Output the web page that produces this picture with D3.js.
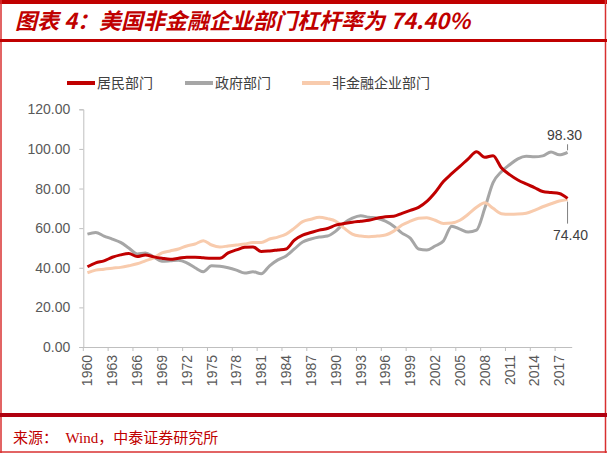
<!DOCTYPE html>
<html><head><meta charset="utf-8">
<script src="https://cdn.jsdelivr.net/npm/d3@7"></script>
<style>
html,body{margin:0;padding:0;background:#fff;}
svg{display:block;}
</style></head>
<body>
<svg id="c" width="607" height="453"></svg>
<script>
const years = d3.range(1960, 2019);
const household = [40.5,42.5,43.5,45.3,46.5,47.2,45.7,46.5,45.5,44.8,44.3,44.8,45.3,45.3,45.0,44.8,44.8,47.5,49.0,50.3,50.5,48.2,48.5,49.0,49.5,54.0,56.5,57.8,59.0,59.8,61.5,62.3,63.0,63.5,64.0,65.0,65.8,66.0,67.5,69.0,70.5,73.5,78.0,83.5,87.5,91.2,95.0,98.6,95.8,96.6,90.5,87.0,84.3,82.3,80.5,78.5,78.0,77.5,75.0];
const government = [57.0,57.8,56.0,54.5,52.8,50.0,47.0,47.5,45.5,43.3,43.5,43.8,42.5,40.0,38.0,41.0,40.8,40.0,38.8,37.3,38.0,37.0,41.0,44.0,46.0,49.5,53.0,54.5,55.5,56.0,58.5,62.5,65.0,66.2,65.5,65.0,63.5,61.0,57.5,55.0,49.5,49.0,51.0,53.5,61.0,59.5,58.0,59.0,70.0,83.0,88.5,92.0,95.0,96.3,96.0,96.5,98.5,97.0,98.3];
const corporate = [37.5,38.8,39.3,39.8,40.2,41.0,42.0,43.5,45.0,47.5,48.5,49.5,51.0,52.0,53.7,51.5,50.5,51.0,51.5,52.0,52.7,52.7,54.5,55.5,57.0,60.0,63.3,64.5,65.5,64.8,63.5,60.0,57.0,56.0,55.7,56.0,56.5,58.5,61.6,63.5,65.0,65.3,64.0,62.4,62.6,64.0,67.0,70.5,72.8,70.0,67.3,67.0,67.1,67.5,69.0,70.8,72.3,73.7,74.4];
const seriesNames = ["居民部门","政府部门","非金融企业部门"];
const seriesColors = ["#C00000","#A6A6A6","#F8CBAD"];
const yTicks = [0,20,40,60,80,100,120];
const xLabelYears = d3.range(1960, 2019, 3);
const title = "图表 4：美国非金融企业部门杠杆率为 74.40%";
const source = "来源：　Wind，中泰证券研究所";

const svg = d3.select("#c");
const red = "#C00000";

// frame
svg.append("rect").attr("x",0).attr("y",0).attr("width",607).attr("height",4).attr("fill","#C00000");
svg.append("line").attr("x1",1).attr("x2",1).attr("y1",0).attr("y2",453).attr("stroke","#D83030").attr("stroke-width",1.5);
svg.append("line").attr("x1",605.5).attr("x2",605.5).attr("y1",0).attr("y2",453).attr("stroke","#D83030").attr("stroke-width",1.5);
svg.append("rect").attr("x",0).attr("y",39).attr("width",607).attr("height",3).attr("fill","#C00000");
svg.append("rect").attr("x",0).attr("y",413).attr("width",607).attr("height",4).attr("fill","#B00010");
svg.append("line").attr("x1",0).attr("x2",607).attr("y1",452).attr("y2",452).attr("stroke","#D83030").attr("stroke-width",1.5);

svg.append("text").attr("x",15).attr("y",29).text(title)
  .attr("fill","#C00000").attr("font-size",22).attr("font-weight","bold").attr("font-style","italic")
  .attr("font-family","'Noto Sans CJK SC', sans-serif");

svg.append("text").attr("x",13).attr("y",443).text(source)
  .attr("fill","#C00000").attr("font-size",15)
  .attr("font-family","'Liberation Serif','Noto Sans CJK SC', serif");

// scales
const x = d3.scaleBand().domain(years).range([83.3, 571.7]).padding(0);
const bw = x.bandwidth();
const cx = d => x(d) + bw/2;
const y = d3.scaleLinear().domain([0,120]).range([347,109.3]);

// axes
const gy = svg.append("g").attr("transform","translate(83.3,0)")
  .call(d3.axisLeft(y).tickValues(yTicks).tickFormat(d3.format(".2f")).tickSize(4).tickPadding(9));
gy.select(".domain").attr("stroke","#BFBFBF");
gy.selectAll(".tick line").attr("stroke","#BFBFBF");
gy.selectAll("text").attr("fill","#595959").attr("font-size",14).attr("font-family","'Liberation Sans',Arial,sans-serif");

const gx = svg.append("g").attr("transform","translate(0,347)")
  .call(d3.axisBottom(x).tickValues(xLabelYears).tickSize(4).tickPadding(6).tickSizeOuter(0));
gx.select(".domain").attr("stroke","#BFBFBF");
gx.selectAll(".tick line").attr("stroke","#BFBFBF").attr("x1",-bw/2).attr("x2",-bw/2);
gx.selectAll("text").attr("fill","#595959").attr("font-size",14).attr("font-family","'Liberation Sans',Arial,sans-serif")
  .attr("transform","rotate(-90)").attr("text-anchor","end").attr("dy","0.35em").attr("x",-8).attr("y",0);

// lines
const allSeries = [household, government, corporate];
const line = d3.line().x((d,i)=>cx(years[i])).y(d=>y(d)).curve(d3.curveMonotoneX);
[1,2,0].forEach(k=>{
  svg.append("path").datum(allSeries[k]).attr("d",line).attr("fill","none")
    .attr("stroke",seriesColors[k]).attr("stroke-width",3).attr("stroke-linejoin","round");
});

// annotations
const last = years[years.length-1];
const gLast = government[government.length-1];
const cLast = corporate[corporate.length-1];
svg.append("line").attr("x1",cx(last)).attr("x2",cx(last)).attr("y1",y(gLast)-2).attr("y2",y(gLast)-8).attr("stroke","#808080").attr("stroke-width",1);
svg.append("text").attr("x",cx(last)-3).attr("y",y(gLast)-12).attr("text-anchor","middle").text(d3.format(".2f")(gLast))
  .attr("fill","#404040").attr("font-size",14).attr("font-family","'Liberation Sans',Arial,sans-serif");
svg.append("line").attr("x1",cx(last)).attr("x2",cx(last)).attr("y1",y(cLast)+2).attr("y2",y(cLast)+24).attr("stroke","#808080").attr("stroke-width",1);
svg.append("text").attr("x",cx(last)+3).attr("y",y(cLast)+40).attr("text-anchor","middle").text(d3.format(".2f")(cLast))
  .attr("fill","#404040").attr("font-size",14).attr("font-family","'Liberation Sans',Arial,sans-serif");

// legend
const legX = [67, 185, 302];
seriesNames.forEach((n,i)=>{
  svg.append("line").attr("x1",legX[i]).attr("x2",legX[i]+28).attr("y1",83).attr("y2",83)
    .attr("stroke",seriesColors[i]).attr("stroke-width",4);
  svg.append("text").attr("x",legX[i]+30).attr("y",88).text(n)
    .attr("fill","#404040").attr("font-size",14).attr("font-family","'Noto Sans CJK SC',sans-serif");
});
</script>
</body></html>
